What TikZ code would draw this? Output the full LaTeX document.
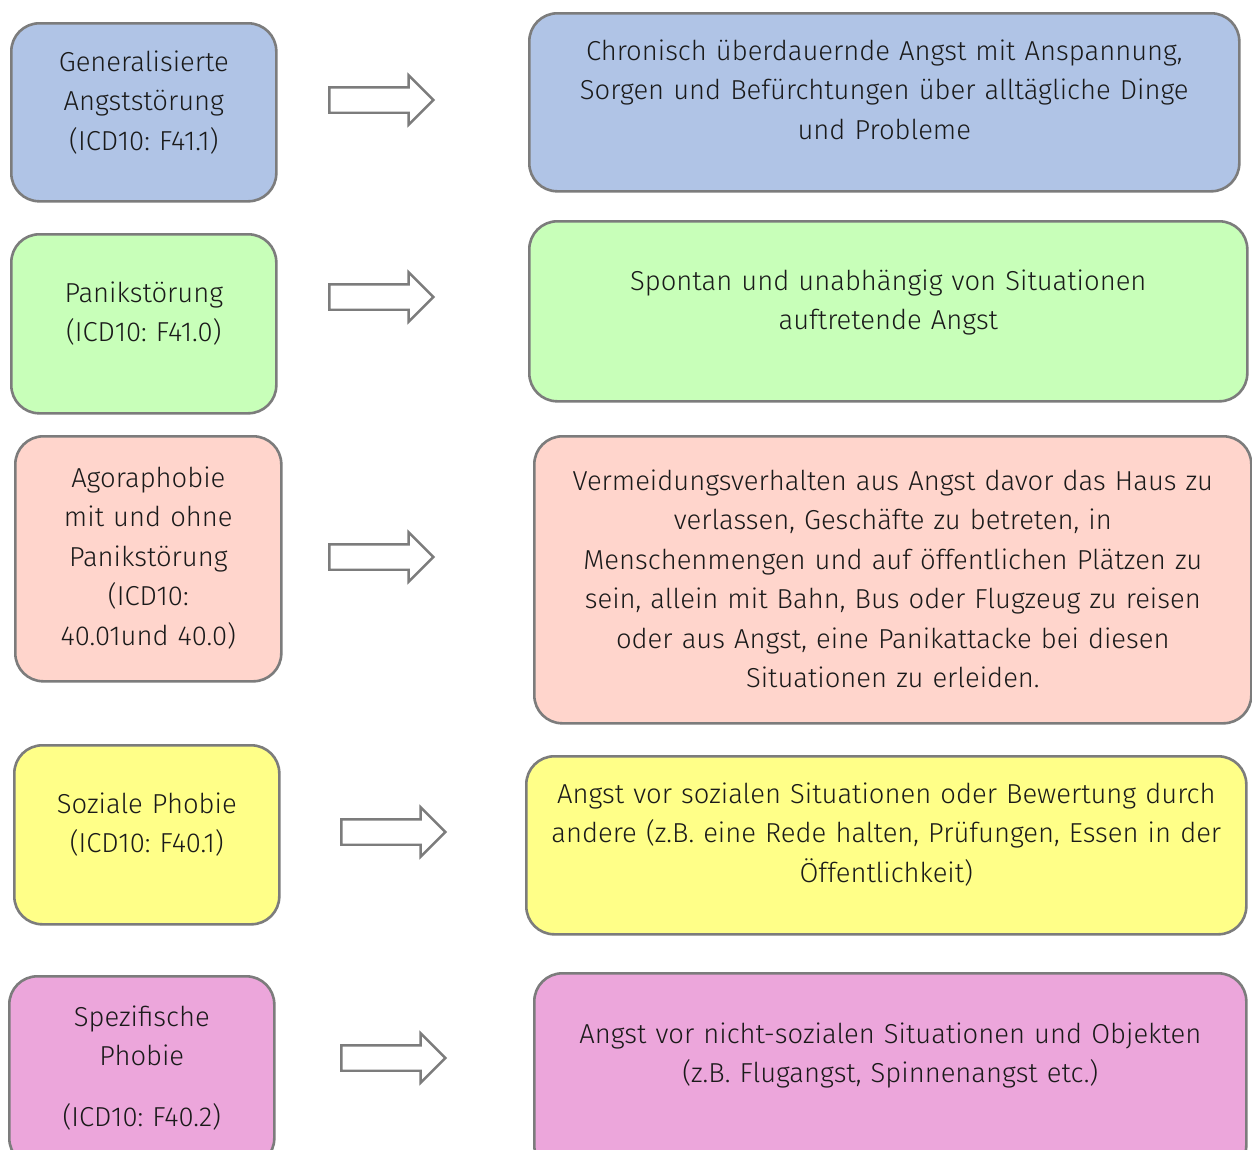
\documentclass[tikz,border=0pt]{standalone}
\usepackage{fontspec}
\setmainfont{Fira Sans}[UprightFont=* Light]
\frenchspacing
\usetikzlibrary{shapes.arrows}
\definecolor{cblue}{HTML}{B0C4E6}
\definecolor{cgreen}{HTML}{C8FFB9}
\definecolor{cpink}{HTML}{FFD5CC}
\definecolor{cyellow}{HTML}{FFFF88}
\definecolor{cmag}{HTML}{ECA6DB}
\definecolor{cline}{HTML}{7C7C7C}
\definecolor{ctext}{HTML}{1A1A1A}
\tikzset{
  card/.style={draw=cline, line width=2.6pt, rounded corners=28pt, inner sep=0pt,
    align=center, anchor=north west, text=ctext,
    font=\fontsize{27.4}{39.5}\selectfont},
  bigarrow/.style={single arrow, draw=cline, fill=white, line width=2.4pt,
    inner xsep=0pt, inner ysep=11.5pt, single arrow head extend=12pt,
    single arrow tip angle=90, minimum height=104pt, minimum width=0pt}
}
\begin{document}
\begin{tikzpicture}[x=1pt,y=-1pt]
\clip (0,0) rectangle (1252,1149);
\fill[white] (0,0) rectangle (1252,1149);
% left column
\node[card, fill=cblue, text width=265pt, text height=48pt, text depth=130pt] (l1) at (10,22)
  {Generalisierte\\Angststörung\\(ICD10: F41.1)};
\node[card, fill=cgreen, text width=265pt, text height=68pt, text depth=111pt] (l2) at (10,233)
  {Panikstörung\\(ICD10: F41.0)};
\node[card, fill=cpink, text width=266pt, text height=51pt, text depth=194pt] (l3) at (14,435)
  {Agoraphobie\\mit und ohne\\Panikstörung\\(ICD10:\\40.01und 40.0)};
\node[card, fill=cyellow, text width=265pt, text height=68pt, text depth=111pt] (l4) at (13,744)
  {Soziale Phobie\\(ICD10: F40.1)};
\node[card, fill=cmag, text width=265pt, text height=50pt, text depth=140pt] (l5) at (8,975)
  {Spezifische\\Phobie\\[21pt](ICD10: F40.2)};
% right column
\node[card, fill=cblue, text width=710pt, text height=47pt, text depth=131pt] (r1) at (528,12)
  {Chronisch überdauernde Angst mit Anspannung,\\Sorgen und Befürchtungen über alltägliche Dinge\\und Probleme};
\node[card, fill=cgreen, text width=718pt, text height=69pt, text depth=111pt] (r2) at (528,220)
  {Spontan und unabhängig von Situationen\\auftretende Angst};
\node[card, fill=cpink, text width=717pt, text height=54pt, text depth=233pt] (r3) at (533,435)
  {Vermeidungsverhalten aus Angst davor das Haus zu\\verlassen, Geschäfte zu betreten, in\\Menschenmengen und auf öffentlichen Plätzen zu\\sein, allein mit Bahn, Bus oder Flugzeug zu reisen\\oder aus Angst, eine Panikattacke bei diesen\\Situationen zu erleiden.};
\node[card, fill=cyellow, text width=720pt, text height=47pt, text depth=131pt] (r4) at (525,755)
  {Angst vor sozialen Situationen oder Bewertung durch\\andere (z.B. eine Rede halten, Prüfungen, Essen in der\\Öffentlichkeit)};
\node[card, fill=cmag, text width=712pt, text height=70pt, text depth=130pt] (r5) at (533,972)
  {Angst vor nicht-sozialen Situationen und Objekten\\(z.B. Flugangst, Spinnenangst etc.)};
% arrows
\node[bigarrow] (a1) at (375,100) {};
\node[bigarrow] (a2) at (375,297) {};
\node[bigarrow] (a3) at (375,557) {};
\node[bigarrow] (a4) at (387,832) {};
\node[bigarrow] (a5) at (387,1058) {};
\end{tikzpicture}
\end{document}
